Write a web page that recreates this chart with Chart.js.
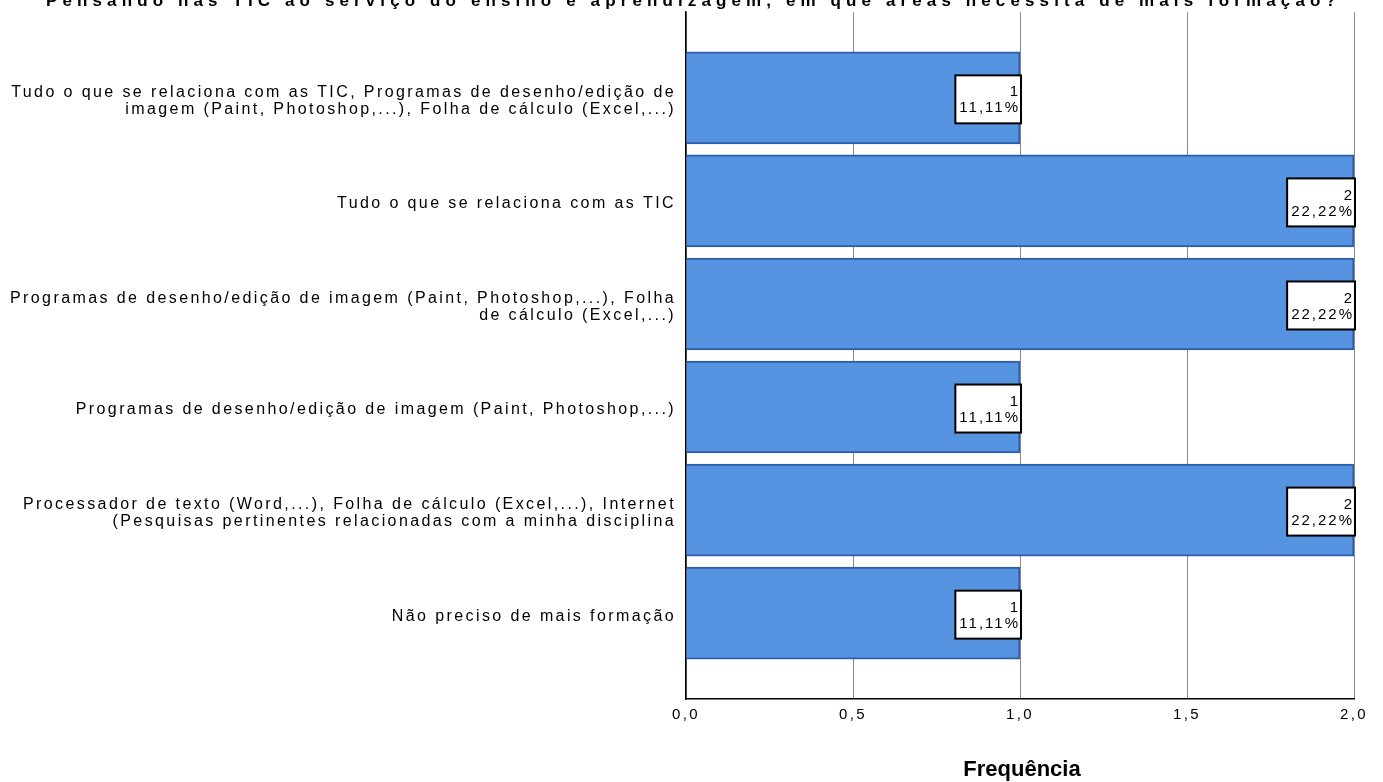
<!DOCTYPE html>
<html>
<head>
<meta charset="utf-8">
<script src="https://cdn.jsdelivr.net/npm/chart.js@4.4.1/dist/chart.umd.min.js"></script>
<style>
  html, body { margin: 0; padding: 0; background: #fff; overflow: hidden; }
  #wrap { width: 1383px; height: 782px; }
</style>
</head>
<body>
<div id="wrap"><canvas id="c" width="1383" height="782"></canvas></div>
<script>
// ---- data ----
const chartTitle = 'Pensando nas TIC ao serviço do ensino e aprendizagem, em que áreas necessita de mais formação?';
const categories = [
  'Tudo o que se relaciona com as TIC, Programas de desenho/edição de\nimagem (Paint, Photoshop,...), Folha de cálculo (Excel,...)',
  'Tudo o que se relaciona com as TIC',
  'Programas de desenho/edição de imagem (Paint, Photoshop,...), Folha\nde cálculo (Excel,...)',
  'Programas de desenho/edição de imagem (Paint, Photoshop,...)',
  'Processador de texto (Word,...), Folha de cálculo (Excel,...), Internet\n(Pesquisas pertinentes relacionadas com a minha disciplina',
  'Não preciso de mais formação'
];
const frequencies = [1, 2, 2, 1, 2, 1];
const xTickValues = [0, 0.5, 1, 1.5, 2];
const xTickLabels = ['0,0', '0,5', '1,0', '1,5', '2,0'];
const axisTitle = 'Frequência';

// ---- helpers ----
const FONT = '"Liberation Sans", Arial, sans-serif';
const SPACING = 2.4; // px between glyphs for the wide SPSS-like lettering
const total = frequencies.reduce((a, b) => a + b, 0);
const pctText = v => (v / total * 100).toFixed(2).replace('.', ',') + '%';

// wide lettering for the tick labels the library draws
const spacingPlugin = {
  id: 'spacing',
  beforeLayout(chart) { chart.ctx.letterSpacing = SPACING + 'px'; },
  beforeDraw(chart) { chart.ctx.letterSpacing = SPACING + 'px'; }
};

// heading at the very top edge of the canvas and the value-axis caption
const textPlugin = {
  id: 'texts',
  afterDraw(chart) {
    const ctx = chart.ctx;
    ctx.save();
    ctx.fillStyle = '#000';
    ctx.textAlign = 'center';
    ctx.textBaseline = 'alphabetic';

    ctx.font = 'bold 17px ' + FONT;
    ctx.letterSpacing = '0px';
    const plain = ctx.measureText(chartTitle).width;
    ctx.letterSpacing = Math.max(0, (1295 - plain) / chartTitle.length) + 'px';
    ctx.fillText(chartTitle, chart.width / 2 + 2, 6);

    const area = chart.chartArea;
    ctx.font = 'bold 22px ' + FONT;
    ctx.letterSpacing = '0px';
    ctx.fillText(axisTitle, (area.left + area.right) / 2 + 2, 776);
    ctx.restore();
  }
};

// boxed value labels (count + percent) at the end of each bar
const valueBoxPlugin = {
  id: 'valueBox',
  afterDatasetsDraw(chart) {
    const ctx = chart.ctx;
    const meta = chart.getDatasetMeta(0);
    ctx.save();
    ctx.font = '15px ' + FONT;
    ctx.letterSpacing = '2px';
    meta.data.forEach((bar, i) => {
      const v = frequencies[i];
      const lines = [String(v), pctText(v)];
      const w = Math.max(...lines.map(s => ctx.measureText(s).width)) + 5;
      const lh = 16, padY = 8;
      const h = lines.length * lh + padY * 2;
      const right = bar.x + 1;
      const left = right - w;
      const top = bar.y + 1.5 - h / 2;
      ctx.fillStyle = '#fff';
      ctx.fillRect(left, top, w, h);
      ctx.lineWidth = 2;
      ctx.strokeStyle = '#000';
      ctx.strokeRect(left, top, w, h);
      ctx.fillStyle = '#000';
      ctx.textAlign = 'right';
      ctx.textBaseline = 'middle';
      lines.forEach((s, k) => {
        ctx.fillText(s, right - 1, top + padY + lh / 2 + k * lh + 1);
      });
    });
    ctx.restore();
  }
};

new Chart(document.getElementById('c'), {
  type: 'bar',
  data: {
    datasets: [{
      data: frequencies.map((v, i) => ({ x: v, y: i })),
      backgroundColor: '#5694e2',
      borderColor: '#2d5fa9',
      borderWidth: 2,
      borderSkipped: 'start',
      barThickness: 92
    }]
  },
  options: {
    indexAxis: 'y',
    responsive: false,
    animation: false,
    events: [],
    layout: { padding: { top: 12, right: 29, left: 0, bottom: 0 } },
    plugins: { legend: { display: false }, tooltip: { enabled: false }, title: { display: false } },
    scales: {
      x: {
        type: 'linear',
        position: 'bottom',
        min: 0,
        max: 2,
        bounds: 'data',
        afterBuildTicks: s => { s.ticks = xTickValues.map(v => ({ value: v })); },
        afterFit: s => { s.height = 83; s.paddingLeft = 0; s.paddingRight = 0; },
        ticks: {
          callback: (v, i) => xTickLabels[i],
          font: { family: FONT, size: 15 },
          color: '#000',
          padding: 7,
          maxRotation: 0,
          autoSkip: false
        },
        grid: { color: '#8a8a8a', lineWidth: 1, drawTicks: false },
        border: { display: true, color: '#000', width: 1.5 }
      },
      y: {
        type: 'linear',
        position: 'left',
        min: -0.833,
        max: 5.833,
        bounds: 'data',
        offset: false,
        reverse: true,
        afterBuildTicks: s => { s.ticks = categories.map((_, i) => ({ value: i })); },
        afterFit: s => { s.width = 686; s.paddingTop = 0; s.paddingBottom = 0; },
        ticks: {
          callback: (v, i) => categories[i].split('\n'),
          font: { family: FONT, size: 16, lineHeight: '17px' },
          color: '#000',
          padding: 10,
          labelOffset: 3,
          autoSkip: false
        },
        grid: { display: false, drawTicks: false, offset: false },
        border: { display: true, color: '#000', width: 1.5 }
      }
    }
  },
  plugins: [spacingPlugin, textPlugin, valueBoxPlugin]
});
</script>
</body>
</html>
